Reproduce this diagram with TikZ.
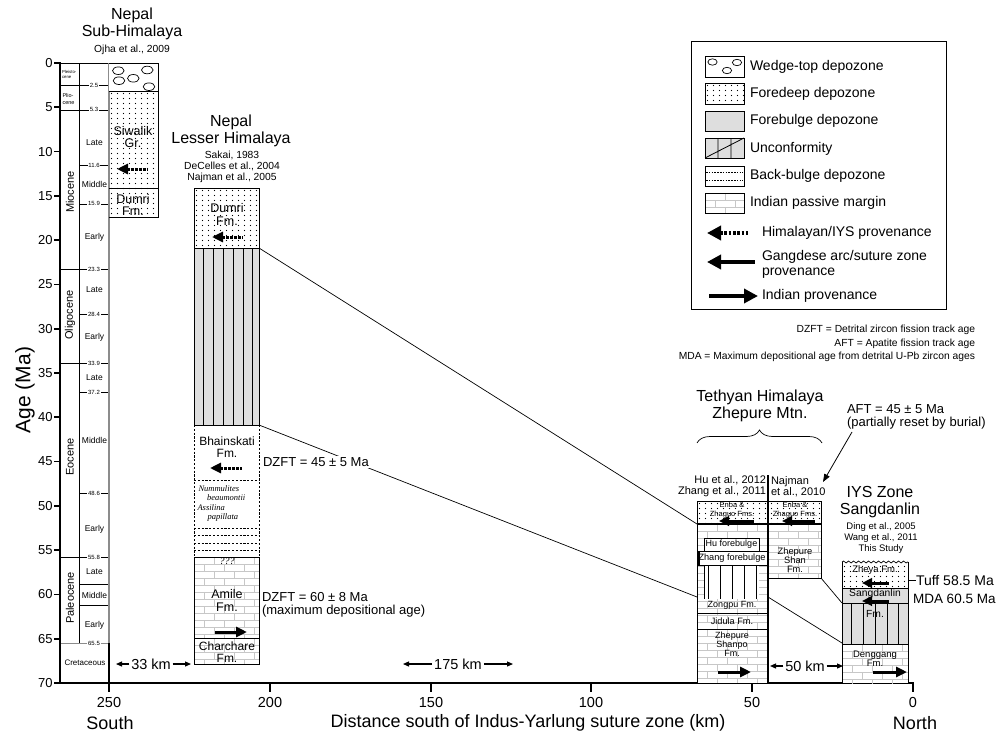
\documentclass[tikz,border=0pt]{standalone}
\usepackage{fontspec}
\setmainfont{Liberation Sans}
\newfontfamily\serifit{Liberation Serif}
\usetikzlibrary{arrows.meta,decorations.pathreplacing,decorations.pathmorphing}
\newcommand\fsz[2]{\fontsize{#1}{#2}\selectfont}
\definecolor{fbgray}{gray}{0.87}
\definecolor{brickc}{gray}{0.78}
\definecolor{tkgray}{gray}{0.55}
\newcommand\dotsbox[4]{%
  \begin{scope}
  \clip (#1,#2) rectangle (#3,#4);
  \pgfmathtruncatemacro\dbnx{(#3-#1)/6+1}%
  \pgfmathtruncatemacro\dbny{(#4-#2)/5+1}%
  \foreach \i in {0,...,\dbnx}{\foreach \j in {0,...,\dbny}{%
    \fill ({#1+2.5+6*\i},{#2+2.5+5*\j}) circle (0.55);}}
  \end{scope}}
\newcommand\brickbox[4]{%
  \fill[white] (#1,#2) rectangle (#3,#4);
  \begin{scope}
  \clip (#1,#2) rectangle (#3,#4);
  \pgfmathtruncatemacro\bbnx{(#3-#1)/20+1}%
  \pgfmathtruncatemacro\bbny{(#4-#2)/7+1}%
  \foreach \j in {0,...,\bbny}{%
    \draw[brickc,line width=0.6] (#1,{#2+7*\j}) -- (#3,{#2+7*\j});
    \pgfmathsetmacro\bboff{mod(\j,2)*10}
    \foreach \i in {0,...,\bbnx}{%
      \draw[brickc,line width=0.6] ({#1+\bboff+20*\i},{#2+7*\j}) -- ++(0,7);}}
  \end{scope}}
\begin{document}
\begin{tikzpicture}[x=1pt,y=-1pt,
  every node/.style={inner sep=0pt,outer sep=0pt},
  ttl/.style={font=\fsz{16}{17},align=center},
  refs/.style={font=\fsz{10.3}{11},align=center},
  fm/.style={font=\fsz{12.5}{12.5},align=center},
  stg/.style={font=\fsz{8.5}{9}},
  tkl/.style={font=\fsz{6}{6},fill=white,inner xsep=0.8pt,inner ysep=0.3pt},
  corr/.style={line width=0.7},
  bd/.style={line width=0.8},
  himarr/.style={line width=3,dash pattern=on 2.2pt off 1.8pt,{Triangle[length=11pt,width=10pt]}-},
  gangarr/.style={line width=3,{Triangle[length=10pt,width=9.5pt]}-},
  indarr/.style={line width=3,-{Triangle[length=11pt,width=10pt]}},
  distarr/.style={line width=1.2,-{Triangle[length=6pt,width=5pt]}},
  dist/.style={font=\fsz{14.5}{15},inner xsep=2pt},
  leg/.style={font=\fsz{14}{15},anchor=west,align=left},
  defs/.style={font=\fsz{10.3}{11},anchor=east}
]
\useasboundingbox (0,0) rectangle (1005,736);

% ---------------- time scale ----------------
\draw[bd] (60,63) -- (109,63);
\draw[bd] (79,63) -- (79,643.1);
\foreach \yy in {85.1,109.9,269.4,363.3,557.2} \draw[bd] (60,\yy) -- (79,\yy);
\foreach \yy/\t in {85.1/2.5,109.9/5.3,165.7/11.6,203.8/15.9,269.4/23.3,314.5/28.4,363.3/33.9,392.5/37.2,493.5/48.6,557.2/55.8,643.1/65.5}{
  \draw[line width=0.6] (79,\yy) -- (109,\yy);}
\draw[bd] (79,584) -- (109,584);
\draw[bd] (79,605) -- (109,605);
\draw[tkgray,line width=1.1] (60,643.1) -- (109,643.1);
\draw[tkgray,line width=1.1] (109,63) -- (109,643.1);
\draw[line width=1.1] (109,643.1) -- (109,683);
\foreach \yy/\t in {85.1/2.5,109.9/5.3,165.7/11.6,203.8/15.9,269.4/23.3,314.5/28.4,363.3/33.9,392.5/37.2,493.5/48.6,557.2/55.8,643.1/65.5}{
  \node[tkl] (tk\t) at (94,\yy) {\t};}
\foreach \yy/\t [count=\k] in {143/Late,184/Middle,237/Early,290/Late,337/Early,378/Late,440/Middle,529/Early,572/Late,595/Middle,625/Early}{
  \node[stg] (stg\k) at (94.5,\yy) {\t};}
\node[font=\fsz{8}{8}] (cret) at (85,663) {Cretaceous};
\node[font=\fsz{11}{11},rotate=90] (mio) at (70,192) {Miocene};
\node[font=\fsz{11}{11},rotate=90] (oli) at (70,315) {Oligocene};
\node[font=\fsz{11}{11},rotate=90] (eoc) at (70,457) {Eocene};
\node[font=\fsz{11}{11},rotate=90] (pal) at (70,598) {Paleocene};
\node[font=\fsz{4.3}{5},anchor=west,align=left] (pleis) at (62,74) {Pleisto-\\cene};
\node[font=\fsz{5.5}{7},anchor=west,align=left] (plio) at (62.5,99) {Plio-\\cene};

% axes
\draw[line width=2.6,line join=miter] (60,62) -- (60,683) -- (914,683);
\foreach \a in {0,5,...,70}{
  \draw[line width=1.6] (54,{63+8.857*\a}) -- (60,{63+8.857*\a});
  \node[anchor=east,font=\fsz{13}{13}] (ya\a) at (52.5,{63+8.857*\a}) {\a};}
\foreach \xx/\t in {109/250,270/200,431/150,591/100,752/50,913/0}{
  \draw[line width=2] (\xx,683) -- (\xx,692);
  \node[font=\fsz{14.5}{15}] (xa\t) at (\xx,703) {\t};}
\node[font=\fsz{21}{21},rotate=90] (agelab) at (25,390) {Age (Ma)};
\node[font=\fsz{18}{18}] (south) at (110,723) {South};
\node[font=\fsz{18}{18}] (north) at (915,723) {North};
\node[font=\fsz{18}{18}] (xlab) at (528,723) {Distance south of Indus-Yarlung suture zone (km)};

% ---------------- Nepal Sub-Himalaya ----------------
\node[ttl] (t1) at (132,23.5) {Nepal\\Sub-Himalaya};
\node[refs] (r1) at (132,50) {Ojha et al., 2009};
\fill[white] (109,63) rectangle (158,91);
\foreach \ex/\ey in {118.3/70.7,147.3/70,119/80.7,133.3/78.3,149/86.7}
  \draw[line width=0.7] (\ex,\ey) ellipse (5.8 and 3.8);
\dotsbox{109}{91}{158}{217}
\draw[bd] (109,91) -- (158,91);
\draw[bd] (109,188) -- (158,188);
\draw[bd] (109,63) -- (158,63) -- (158,217) -- (109,217);
\node[fm] (siw) at (133,137) {Siwalik\\Gr.};
\draw[himarr] (117,169) -- (148,169);
\node[fm] (dum1) at (133,205) {Dumri\\Fm.};

% ---------------- Nepal Lesser Himalaya ----------------
\node[ttl] (t2) at (231,130.5) {Nepal\\Lesser Himalaya};
\node[refs] (r2) at (232,166.5) {Sakai, 1983\\DeCelles et al., 2004\\Najman et al., 2005};
\fill[white] (194,188) rectangle (259,664);
\dotsbox{194}{188}{259}{248}
\fill[fbgray] (194,248) rectangle (259,425);
\foreach \xx in {203,213,223,233,243,252} \draw[line width=0.7] (\xx,248) -- (\xx,425);
\brickbox{194}{557}{259}{638}
\brickbox{194}{638}{259}{664}
\draw[bd] (194,425) -- (194,188) -- (259,188) -- (259,425) -- cycle;
\draw[bd] (194,248) -- (259,248);
\foreach \yy in {480,528,535,543,550}
  \draw[line width=0.8,dash pattern=on 2.2pt off 1.6pt] (194,\yy) -- (259,\yy);
\draw[line width=0.8,dash pattern=on 2.2pt off 1.6pt] (194,425) -- (194,557);
\draw[line width=0.8,dash pattern=on 2.2pt off 1.6pt] (259,425) -- (259,557);
\draw[bd] (194,557) rectangle (259,664);
\draw[bd] (194,638) -- (259,638);
\node[fm] (dum2) at (227,214.5) {Dumri\\Fm.};
\draw[himarr] (212,237) -- (243,237);
\node[fm,font=\fsz{12}{12}] (bhai) at (227,447) {Bhainskati\\Fm.};
\draw[himarr] (210,468) -- (242,468);
\node[font=\serifit\itshape\fsz{8.5}{9},anchor=west] (num1) at (198.5,489) {Nummulites};
\node[font=\serifit\itshape\fsz{8.5}{9},anchor=west] (num2) at (207,498) {beaumontii};
\node[font=\serifit\itshape\fsz{8.5}{9},anchor=west] (num3) at (197.5,507.5) {Assilina};
\node[font=\serifit\itshape\fsz{8.5}{9},anchor=west] (num4) at (207.5,517) {papillata};
\node[font=\serifit\itshape\fsz{10}{10}] (qqq) at (227,561) {???};
\node[fm] (amile) at (227,600.5) {Amile\\Fm.};
\draw[indarr] (215,632) -- (247,632);
\node[fm,font=\fsz{12}{12}] (charc) at (227,652) {Charchare\\Fm.};

% ---------------- Tethyan Himalaya ----------------
\node[ttl] (t3) at (760,406) {Tethyan Himalaya\\Zhepure Mtn.};
\draw[line width=0.7,decorate,decoration={brace,amplitude=13pt}] (697,443) -- (822,443);
\node[font=\fsz{11}{11},anchor=east,align=right] (r3a) at (766,486.5) {Hu et al., 2012\\Zhang et al., 2011};
\node[font=\fsz{11}{11},anchor=west,align=left] (r3b) at (771,486.5) {Najman\\et al., 2010};
\fill[white] (697,501) rectangle (821,524);
\dotsbox{697}{501}{821}{524}
\brickbox{697}{524}{768}{683}
\brickbox{768}{524}{821}{578}
\draw[line width=0.7,fill=white] (704,538) rectangle (759,551);
\fill[white] (704,551) rectangle (759,599);
\foreach \xx in {704,708,720,732,744,756} \draw[line width=1] (\xx,551) -- (\xx,599);
\draw[line width=0.7,fill=white] (697,551) rectangle (767,565);
\fill (697,551) rectangle (699.5,565);
\draw[bd] (697,613) -- (768,613);
\draw[bd] (697,629) -- (768,629);
\draw[bd] (697,501) rectangle (768,683);
\draw[bd] (768,501) rectangle (821,578);
\draw[line width=2] (697,524) -- (821,524);
\draw[line width=1.3] (768,475) -- (768,683);
\node[font=\fsz{7.5}{9},align=center] (enba1) at (732,510) {Enba \&\\Zhaguo Fms.};
\node[font=\fsz{7.5}{9},align=center] (enba2) at (795,510) {Enba \&\\Zhaguo Fms.};
\draw[gangarr] (719,521) -- (754,521);
\draw[gangarr] (782,521) -- (815,521);
\node[font=\fsz{9}{9}] (hufb) at (731.5,544.5) {Hu forebulge};
\node[font=\fsz{9.2}{9}] (zhfb) at (732,558) {Zhang forebulge};
\node[font=\fsz{9}{9}] (zong) at (732,605.5) {Zongpu Fm.};
\node[font=\fsz{9.2}{9}] (jid) at (732,621.5) {Jidula Fm.};
\node[font=\fsz{9}{7.6},align=center] (zsp) at (732,644) {Zhepure\\Shanpo\\Fm.};
\draw[indarr] (718,672) -- (751,672);
\node[font=\fsz{9.3}{9},align=center] (zs) at (795,560) {Zhepure\\Shan\\Fm.};
\node[font=\fsz{13}{13},anchor=west,align=left] (aft) at (847,417) {AFT = 45 ± 5 Ma\\(partially reset by burial)};
\coordinate (aftstart) at (852,432);
\coordinate (aftend) at (823,482);
\draw[line width=0.8,-{Triangle[length=8pt,width=6pt]}] (aftstart) -- (aftend);

% ---------------- IYS Zone ----------------
\node[ttl] (t4) at (880,502) {IYS Zone\\Sangdanlin};
\node[font=\fsz{9.5}{11},align=center] (r4) at (881,538) {Ding et al., 2005\\Wang et al., 2011\\This Study};
\fill[white] (842,562) rectangle (908,588);
\dotsbox{842}{564}{908}{588}
\fill[fbgray] (842,588) rectangle (908,644);
\foreach \xx in {851,863,875,887,898} \draw[line width=0.7] (\xx,603) -- (\xx,644);
\brickbox{842}{644}{908}{683}
\draw[line width=0.7,decorate,decoration={snake,amplitude=1pt,segment length=5pt}] (842,562) -- (908,562);
\draw[bd] (842,562) -- (842,683);
\draw[bd] (908,562) -- (908,683);
\draw[bd] (842,588) -- (908,588);
\draw[bd] (842,603) -- (908,603);
\draw[bd] (842,644) -- (908,644);
\node[font=\fsz{9.5}{9}] (zheya) at (875,570) {Zheya Fm.};
\node[font=\fsz{10.3}{10}] (sang) at (875,593.5) {Sangdanlin};
\node[font=\fsz{10.3}{10}] (sangfm) at (875,614) {Fm.};
\draw[gangarr] (862,583) -- (889,583);
\draw[gangarr] (862,601) -- (889,601);
\node[font=\fsz{9.5}{9},align=center] (deng) at (875,658.5) {Denggang\\Fm.};
\draw[indarr] (873,672) -- (907,672);
\node[font=\fsz{14}{14},anchor=west] (tuff) at (916,580) {Tuff 58.5 Ma};
\coordinate (tuffst) at (908,580);
\draw[line width=0.8] (tuffst) -- (tuff.west);
\node[font=\fsz{13.5}{14},anchor=west] (mda) at (913,598.5) {MDA 60.5 Ma};

% ---------------- correlation lines ----------------
\coordinate (lh1) at (259,248);
\coordinate (lh2) at (259,425);
\coordinate (th1) at (697,524);
\coordinate (th2) at (697,597);
\coordinate (th3) at (768,597);
\coordinate (th4) at (821,578);
\coordinate (iy1) at (842,603);
\coordinate (iy2) at (842,643);
\draw[corr] (lh1) -- (th1);
\draw[corr] (lh2) -- (th2);
\draw[corr] (th3) -- (iy2);
\draw[corr] (th4) -- (iy1);
\node[font=\fsz{13}{13},anchor=west,fill=white,inner xsep=1pt,inner ysep=1pt] (dz1) at (262,462) {DZFT = 45 ± 5 Ma};
\node[font=\fsz{13}{12.5},anchor=west,align=left] (dz2) at (262,605) {DZFT = 60 ± 8 Ma\\(maximum depositional age)};

% ---------------- distances ----------------
\node[dist] (d33) at (151,664) {33 km};
\coordinate (d33l) at (116,664); \coordinate (d33r) at (191,664);
\draw[distarr] (d33.west) -- (d33l); \draw[distarr] (d33.east) -- (d33r);
\node[dist] (d175) at (458,664) {175 km};
\coordinate (d175l) at (403,664); \coordinate (d175r) at (513,664);
\draw[distarr] (d175.west) -- (d175l); \draw[distarr] (d175.east) -- (d175r);
\node[dist] (d50) at (805,666) {50 km};
\coordinate (d50l) at (770,666); \coordinate (d50r) at (843,666);
\draw[distarr] (d50.west) -- (d50l); \draw[distarr] (d50.east) -- (d50r);

% ---------------- legend ----------------
\draw[line width=1] (691,41) rectangle (946,309);
\draw[line width=1,fill=white] (705,56) rectangle (744,77);
\foreach \ex/\ey in {712.5/62,727/70.5,737/62.5} \draw[line width=0.7] (\ex,\ey) ellipse (4.6 and 3.2);
\fill[white] (705,83) rectangle (744,104);
\dotsbox{705}{83}{744}{104}
\draw[line width=1] (705,83) rectangle (744,104);
\draw[line width=1,fill=fbgray] (705,111) rectangle (744,131);
\draw[line width=1,fill=fbgray] (705,138) rectangle (744,158);
\draw[line width=0.8] (718,138) -- (718,158) (731,138) -- (731,158) (705,158) -- (744,138);
\draw[line width=1,fill=white] (705,166) rectangle (744,186);
\draw[line width=0.8,dash pattern=on 1.6pt off 1.2pt] (706,172.5) -- (743,172.5) (706,180) -- (743,180);
\brickbox{705}{193}{744}{213}
\draw[line width=1] (705,193) rectangle (744,213);
\node[leg] (l1) at (750,67) {Wedge-top depozone};
\node[leg] (l2) at (750,94) {Foredeep depozone};
\node[leg] (l3) at (750,121) {Forebulge depozone};
\node[leg] (l4) at (750,149) {Unconformity};
\node[leg] (l5) at (750,176) {Back-bulge depozone};
\node[leg] (l6) at (750,203) {Indian passive margin};
\draw[line width=4,dash pattern=on 2.5pt off 1.8pt,{Triangle[length=14pt,width=14pt]}-] (707,233) -- (750,233);
\node[leg] (l7) at (762,233) {Himalayan/IYS provenance};
\draw[line width=4.5,{Triangle[length=14pt,width=14pt]}-] (707,262) -- (755,262);
\node[leg,font=\fsz{14}{15}] (l8) at (762,264.5) {Gangdese arc/suture zone\\provenance};
\draw[line width=4.5,-{Triangle[length=14pt,width=14pt]}] (709,296) -- (758,296);
\node[leg] (l9) at (762,296) {Indian provenance};

\node[defs] (df1) at (975,330) {DZFT = Detrital zircon fission track age};
\node[defs] (df2) at (975,343.5) {AFT = Apatite fission track age};
\node[defs] (df3) at (975,357) {MDA = Maximum depositional age from detrital U-Pb zircon ages};
\end{tikzpicture}
\end{document}
